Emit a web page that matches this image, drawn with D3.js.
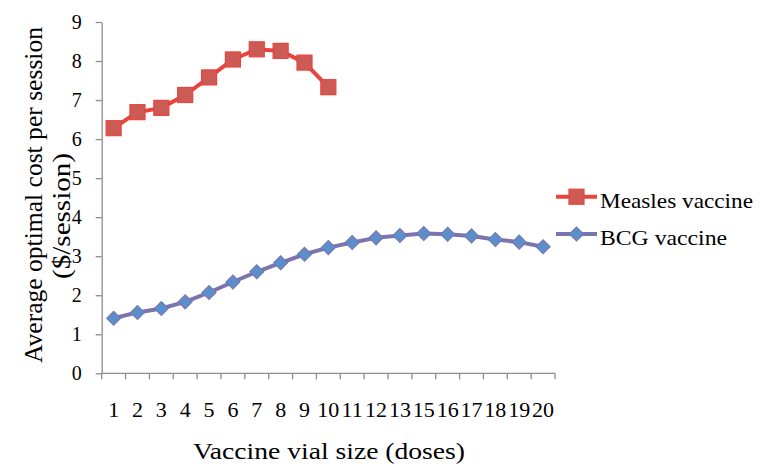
<!DOCTYPE html>
<html>
<head>
<meta charset="utf-8">
<script src="https://cdn.jsdelivr.net/npm/d3@7"></script>
<style>
  html, body { margin: 0; padding: 0; background: #fff; }
  svg { display: block; font-family: "Liberation Serif", "Times New Roman", serif; }
</style>
</head>
<body>
<svg id="chart" width="760" height="470"></svg>
<script>
// Vial sizes (doses) shown on the category axis
const vialSizes = ["1","2","3","4","5","6","7","8","9","10","11","12","13","15","16","17","18","19","20"];
// Average optimal cost per session ($/session)
const measlesCost = [6.28, 6.69, 6.80, 7.13, 7.58, 8.04, 8.30, 8.26, 7.96, 7.33];
const bcgCost = [1.41, 1.56, 1.66, 1.83, 2.07, 2.34, 2.60, 2.83, 3.05, 3.22, 3.35, 3.47, 3.53, 3.58, 3.56, 3.52, 3.43, 3.36, 3.24];
const yTicks = [0, 1, 2, 3, 4, 5, 6, 7, 8, 9];
const seriesNames = ["Measles vaccine", "BCG vaccine"];

const svg = d3.select("#chart");
const axisColor = "#8c8c8c";
const serif = "Liberation Serif, Times New Roman, serif";

const x = d3.scaleBand().domain(vialSizes).range([101.7, 555]).padding(0);
const y = d3.scaleLinear().domain([0, 9]).range([373.3, 22]);

// Y axis
const yAxis = svg.append("g")
  .attr("transform", "translate(101.7,0)")
  .call(d3.axisLeft(y).tickValues(yTicks).tickSize(6).tickSizeOuter(0).tickPadding(14));
yAxis.select(".domain").attr("stroke", axisColor).attr("stroke-width", 1.3);
yAxis.selectAll(".tick line").attr("stroke", axisColor).attr("stroke-width", 1.3);
yAxis.selectAll(".tick text").attr("font-size", 20).attr("fill", "#000")
  .attr("font-family", serif);

// X axis: baseline, tick marks between categories, labels centered in bands
const xg = svg.append("g").attr("transform", `translate(0,${y(0)})`);
xg.append("line")
  .attr("x1", x.range()[0]).attr("x2", x.range()[1])
  .attr("stroke", axisColor).attr("stroke-width", 1.3);
const edges = vialSizes.map(d => x(d)).concat([x.range()[1]]);
xg.selectAll("line.tick").data(edges).join("line")
  .attr("class", "tick")
  .attr("x1", d => d).attr("x2", d => d)
  .attr("y1", 0).attr("y2", 6)
  .attr("stroke", axisColor).attr("stroke-width", 1.3);
xg.selectAll("text").data(vialSizes).join("text")
  .attr("x", d => x(d) + x.bandwidth() / 2)
  .attr("y", 44)
  .attr("text-anchor", "middle")
  .attr("font-size", 22)
  .text(d => d);

// Axis titles
svg.append("text")
  .attr("transform", "translate(41.5,195) rotate(-90)")
  .attr("text-anchor", "middle")
  .attr("font-size", 25)
  .attr("textLength", 336)
  .attr("lengthAdjust", "spacingAndGlyphs")
  .text("Average optimal cost per session");
svg.append("text")
  .attr("transform", "translate(69.5,216) rotate(-90)")
  .attr("text-anchor", "middle")
  .attr("font-size", 25)
  .attr("textLength", 126)
  .attr("lengthAdjust", "spacingAndGlyphs")
  .text("($/session)");
svg.append("text")
  .attr("x", 329).attr("y", 459)
  .attr("text-anchor", "middle")
  .attr("font-size", 24)
  .attr("textLength", 272)
  .attr("lengthAdjust", "spacingAndGlyphs")
  .text("Vaccine vial size (doses)");

const cx = d => x(d) + x.bandwidth() / 2;
const lineGen = d3.line().x(d => cx(d.k)).y(d => y(d.v));

const measles = measlesCost.map((v, i) => ({ k: vialSizes[i], v }));
const bcg = bcgCost.map((v, i) => ({ k: vialSizes[i], v }));

const redLine = "#e8433d", redFill = "#cc5b56";
const purpleLine = "#7b74ae", blueFill = "#5b8fcb";

// BCG series
svg.append("path").datum(bcg)
  .attr("d", lineGen).attr("fill", "none")
  .attr("stroke", purpleLine).attr("stroke-width", 4).attr("stroke-linejoin", "round");
const diamond = d3.symbol().type(d3.symbolSquare).size(100);
svg.selectAll("path.bcg").data(bcg).join("path")
  .attr("class", "bcg")
  .attr("d", diamond)
  .attr("transform", d => `translate(${cx(d.k)},${y(d.v)}) rotate(45)`)
  .attr("fill", blueFill).attr("stroke", purpleLine).attr("stroke-width", 1);

// Measles series
svg.append("path").datum(measles)
  .attr("d", lineGen).attr("fill", "none")
  .attr("stroke", redLine).attr("stroke-width", 4).attr("stroke-linejoin", "round");
svg.selectAll("rect.measles").data(measles).join("rect")
  .attr("class", "measles")
  .attr("x", d => cx(d.k) - 7.5).attr("y", d => y(d.v) - 7.5)
  .attr("width", 15).attr("height", 15)
  .attr("fill", redFill).attr("stroke", redLine).attr("stroke-width", 1.2);

// Legend
const legend = svg.append("g");
const lg = [
  { name: seriesNames[0], y: 196.7, color: redLine, len: 153 },
  { name: seriesNames[1], y: 234, color: purpleLine, len: 127 }
];
legend.selectAll("line").data(lg).join("line")
  .attr("x1", 556).attr("x2", 597)
  .attr("y1", d => d.y).attr("y2", d => d.y)
  .attr("stroke", d => d.color).attr("stroke-width", 4);
legend.append("rect")
  .attr("x", 576.5 - 7.5).attr("y", lg[0].y - 7.5).attr("width", 15).attr("height", 15)
  .attr("fill", redFill).attr("stroke", redLine).attr("stroke-width", 1.2);
legend.append("path")
  .attr("d", diamond)
  .attr("transform", `translate(576.5,${lg[1].y}) rotate(45)`)
  .attr("fill", blueFill).attr("stroke", purpleLine).attr("stroke-width", 1);
legend.selectAll("text").data(lg).join("text")
  .attr("x", 600).attr("y", d => d.y + 11)
  .attr("font-size", 21)
  .attr("textLength", d => d.len)
  .attr("lengthAdjust", "spacingAndGlyphs")
  .text(d => d.name);
</script>
</body>
</html>
